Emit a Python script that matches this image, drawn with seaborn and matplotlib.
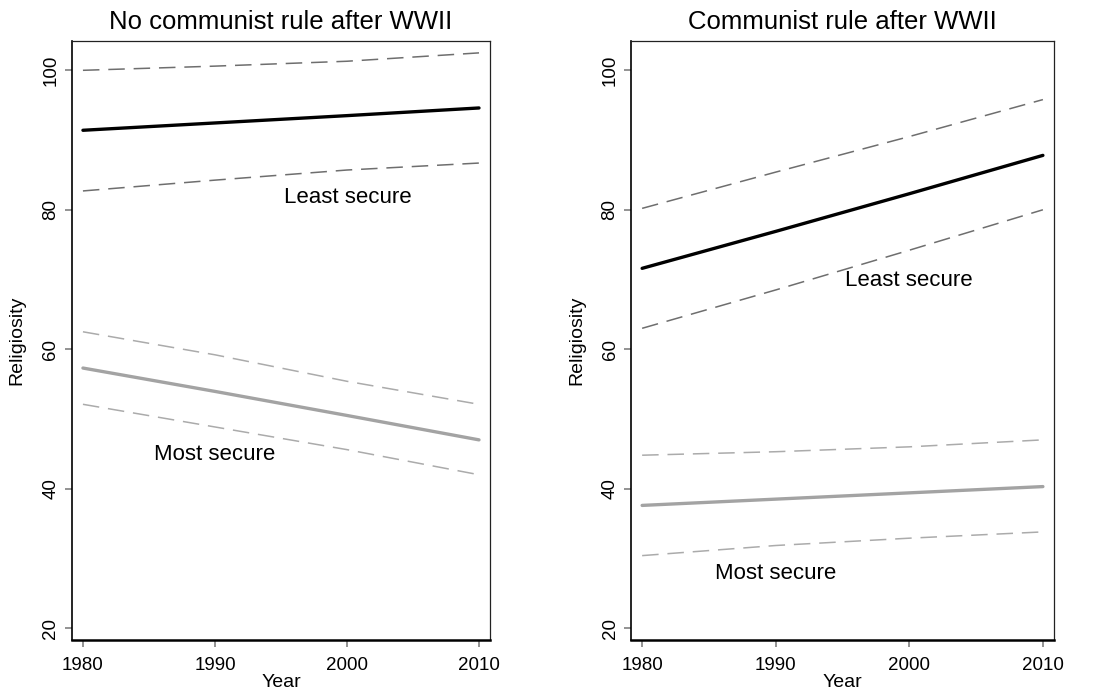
import numpy as np
import pandas as pd
import matplotlib
matplotlib.use("Agg")
import matplotlib.pyplot as plt
import seaborn as sns

sns.set_style("white")
plt.rcParams['font.family'] = ['Liberation Sans', 'DejaVu Sans']
plt.rcParams['text.color'] = 'black'
plt.rcParams['axes.labelcolor'] = 'black'
plt.rcParams['xtick.labelcolor'] = 'black'
plt.rcParams['ytick.labelcolor'] = 'black'

years = [1980, 1990, 2000, 2010]
panel_titles = ["No communist rule after WWII", "Communist rule after WWII"]

# no communist rule
nc_least = [91.4, 92.45, 93.5, 94.6]
nc_least_hi = [100.0, 100.6, 101.3, 102.5]
nc_least_lo = [82.7, 84.25, 85.7, 86.7]
nc_most = [57.3, 53.95, 50.5, 47.0]
nc_most_hi = [62.5, 59.2, 55.4, 52.1]
nc_most_lo = [52.1, 48.85, 45.6, 42.0]

# communist rule
c_least = [71.6, 76.9, 82.3, 87.8]
c_least_hi = [80.2, 85.4, 90.5, 95.8]
c_least_lo = [63.0, 68.5, 74.2, 80.0]
c_most = [37.6, 38.5, 39.4, 40.3]
c_most_hi = [44.8, 45.3, 46.0, 47.0]
c_most_lo = [30.4, 31.85, 32.9, 33.8]

label_pos = {
    0: {"Least secure": (2000.1, 81.8), "Most secure": (1990.0, 44.9)},
    1: {"Least secure": (2000.0, 69.9), "Most secure": (1990.0, 27.9)},
}

panels = [
    [nc_least, nc_least_hi, nc_least_lo, nc_most, nc_most_hi, nc_most_lo],
    [c_least, c_least_hi, c_least_lo, c_most, c_most_hi, c_most_lo],
]

dash = (0, (10.8, 5.8))
styles = [
    dict(color="black", lw=2.4, linestyle="-"),
    dict(color="#6e6e6e", lw=1.1, linestyle=dash),
    dict(color="#6e6e6e", lw=1.1, linestyle=dash),
    dict(color="#a3a3a3", lw=2.4, linestyle="-"),
    dict(color="#ababab", lw=1.1, linestyle=dash),
    dict(color="#ababab", lw=1.1, linestyle=dash),
]

fig = plt.figure(figsize=(11.04, 6.93), dpi=100)
axes = [fig.add_axes([0.0652, 0.0765, 0.3786, 0.8643]),
        fig.add_axes([0.5716, 0.0765, 0.3831, 0.8643])]

for i, ax in enumerate(axes):
    for series, st in zip(panels[i], styles):
        df = pd.DataFrame({"Year": years, "Religiosity": series})
        sns.lineplot(data=df, x="Year", y="Religiosity", ax=ax, **st)
    for txt, (x, y) in label_pos[i].items():
        ax.text(x, y, txt, ha="center", va="center", fontsize=16, color="black")
    ax.set_xlim(1979.17, 2010.83)
    ax.set_ylim(18.3, 104.2)
    ax.set_xticks([1980, 1990, 2000, 2010])
    ax.set_yticks([20, 40, 60, 80, 100])
    ax.tick_params(axis="both", direction="out", length=5, width=1.2,
                   color="#808080", labelsize=13.5, left=True, bottom=True)
    ax.tick_params(axis="x", pad=7)
    ax.tick_params(axis="y", pad=4)
    plt.setp(ax.get_yticklabels(), rotation=90, va="center")
    ax.set_xlabel("Year", fontsize=14, labelpad=0)
    ax.set_ylabel("Religiosity", fontsize=14, labelpad=12)
    ax.set_title(panel_titles[i], fontsize=18.5, pad=9, color="black")
    for side in ["top", "right"]:
        ax.spines[side].set_linewidth(0.9)
        ax.spines[side].set_color("#222222")
    ax.spines["left"].set_linewidth(1.2)
    ax.spines["left"].set_color("black")
    ax.spines["bottom"].set_linewidth(1.8)
    ax.spines["bottom"].set_color("black")

fig.savefig("out.png", dpi=100)
